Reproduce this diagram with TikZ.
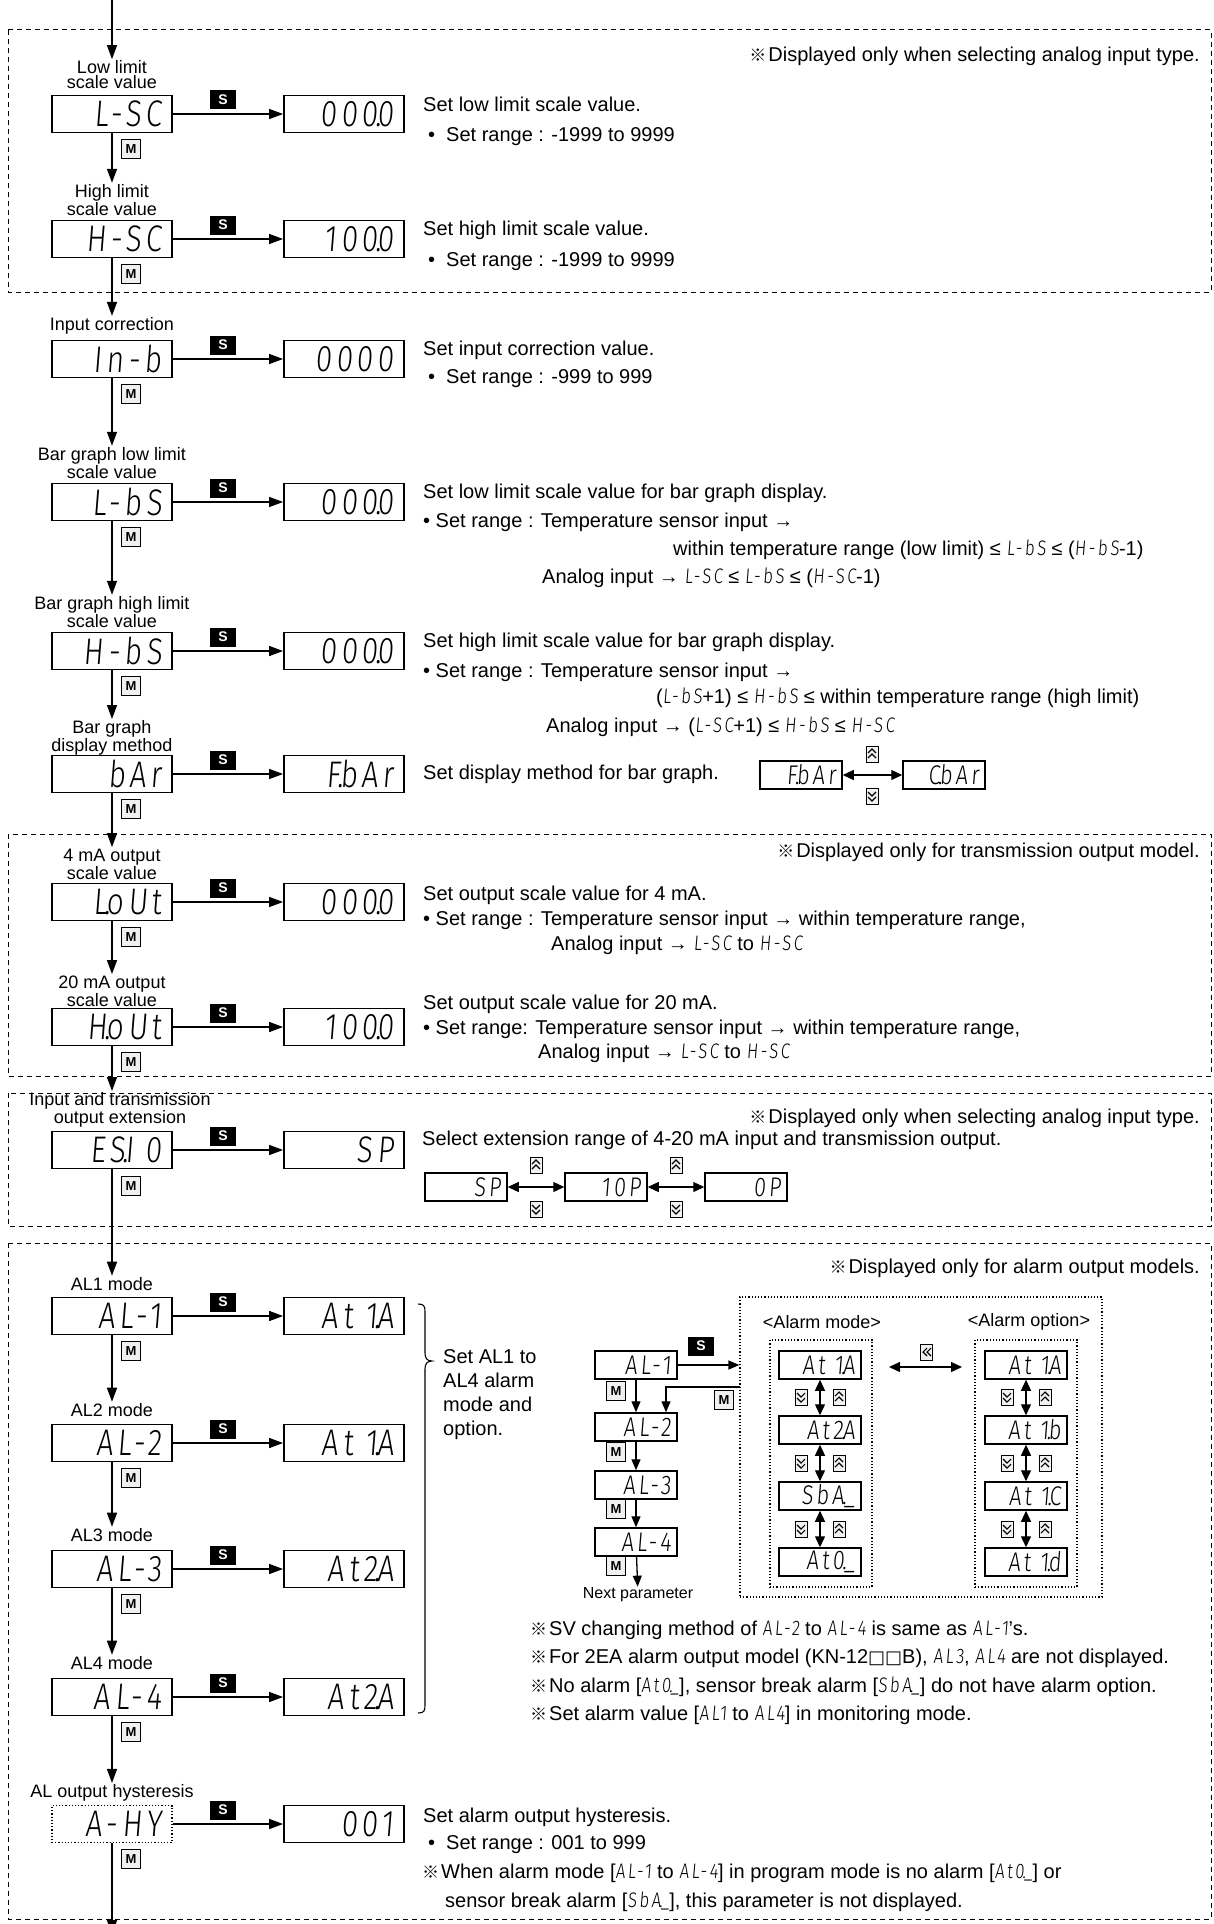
\documentclass[tikz,border=0pt]{standalone}
\usepackage{fontspec}
\setmainfont{Liberation Sans}
\newfontfamily\segfont{Fira Sans Light}[FakeSlant=0.08,FakeStretch=0.8,LetterSpace=12]
\newfontfamily\cjkf{Noto Sans CJK SC}
\newfontfamily\djf{DejaVu Sans}
\usetikzlibrary{arrows.meta,calc}
\newcommand\km{{\cjkf\fontsize{17}{20}\selectfont ※}\hspace{2pt}}
\newcommand\sv[1]{{\segfont\fontsize{21}{24}\selectfont #1}}
\newcommand\dotc{\kern-0.08em.\kern-0.1em}
\newcommand\sqb{{\djf\fontsize{18}{20}\selectfont □}}
\begin{document}
\begin{tikzpicture}[x=1pt,y=-1pt,
  lcd/.style={draw, line width=1.8pt, minimum width=120pt, minimum height=37pt, inner sep=0pt,
    text width=100pt, align=right, font=\segfont\fontsize{37}{37}\selectfont},
  slcd/.style={draw, line width=1.5pt, minimum width=82pt, minimum height=28pt, inner sep=0pt,
    text width=70pt, align=right, font=\segfont\fontsize{27}{27}\selectfont},
  skey/.style={fill=black, text=white, font=\bfseries\fontsize{14}{14}\selectfont,
    minimum width=26pt, minimum height=19pt, inner sep=0pt},
  mkey/.style={draw, line width=1.2pt, fill=black!6, font=\bfseries\fontsize{13}{13}\selectfont,
    minimum width=19pt, minimum height=19pt, inner sep=0pt},
  lab/.style={font=\fontsize{18}{15}\selectfont, align=center, inner sep=1.5pt},
  txt/.style={font=\fontsize{20}{24}\selectfont, anchor=west, inner sep=0pt},
  note/.style={font=\fontsize{20}{24}\selectfont, anchor=east, inner sep=0pt},
  arr/.style={line width=1.4pt, -{Triangle[length=14pt,width=10pt]}},
  arrs/.style={line width=1.3pt, -{Triangle[length=11pt,width=9pt]}},
  dbl/.style={line width=1.3pt, {Triangle[length=11pt,width=10pt]}-{Triangle[length=11pt,width=10pt]}},
  dbox/.style={line width=1pt, dash pattern=on 5pt off 4pt},
  dotbox/.style={line width=1.2pt, dash pattern=on 1.2pt off 2pt},
  upkey/.pic={\draw[line width=0.7pt, fill=black!5] (-6,-8) rectangle (6,8);
    \draw[line width=1.1pt] (-4,-1)--(0,-5)--(4,-1) (-4,4)--(0,0)--(4,4);},
  downkey/.pic={\draw[line width=0.7pt, fill=black!5] (-6,-8) rectangle (6,8);
    \draw[line width=1.1pt] (-4,1)--(0,5)--(4,1) (-4,-4)--(0,0)--(4,-4);},
  leftkey/.pic={\draw[line width=0.7pt, fill=black!5] (-6,-8) rectangle (6,8);
    \draw[line width=1.1pt] (1,-4)--(-3,0)--(1,4) (5,-4)--(1,0)--(5,4);}
]
\fill[white] (0,0) rectangle (1214,1924);
\useasboundingbox (0,0) rectangle (1214,1924);

% dashed frames
\draw[dbox] (8,30) rectangle (1211,292);
\draw[dbox] (8,834) rectangle (1211,1076);
\draw[dbox] (8,1093) rectangle (1211,1226);
\draw[dbox] (8,1243) rectangle (1211,1919);

% frame notes
\node[note] (n1) at (1200,56) {\km Displayed only when selecting analog input type.};
\node[note] (n3) at (1200,852) {\km Displayed only for transmission output model.};
\node[note] (n4) at (1200,1118) {\km Displayed only when selecting analog input type.};
\node[note] (n5) at (1200,1268) {\km Displayed only for alarm output models.};

% ---------- section 1
\coordinate (top) at (112,0);
\node[lab] (t1) at (112,75) {Low limit\\scale value};
\node[lcd] (p1) at (112,114) {L-SC};
\node[lcd] (v1) at (344,114) {000\dotc0};
\node[skey] (s1) at (223,100) {S};
\node[mkey] (m1) at (131,149) {M};
\node[txt] (d1a) at (423,104) {Set low limit scale value.};
\node[txt] (d1b) at (428,137) {•\hspace{11pt}Set range : -1999 to 9999};
% ---------- section 2
\node[lab] (t2) at (112,200) {High limit\\scale value};
\node[lcd] (p2) at (112,239) {H-SC};
\node[lcd] (v2) at (344,239) {100\dotc0};
\node[skey] (s2) at (223,225) {S};
\node[mkey] (m2) at (131,274) {M};
\node[txt] (d2a) at (423,230) {Set high limit scale value.};
\node[txt] (d2b) at (428,262) {•\hspace{11pt}Set range : -1999 to 9999};
% ---------- section 3
\node[lab] (t3) at (112,326) {Input correction};
\node[lcd] (p3) at (112,359) {In-b};
\node[lcd] (v3) at (344,359) {0000};
\node[skey] (s3) at (223,345) {S};
\node[mkey] (m3) at (131,394) {M};
\node[txt] (d3a) at (423,350) {Set input correction value.};
\node[txt] (d3b) at (428,379) {•\hspace{11pt}Set range : -999 to 999};
% ---------- section 4
\node[lab] (t4) at (112,463) {Bar graph low limit\\scale value};
\node[lcd] (p4) at (112,502) {L-bS};
\node[lcd] (v4) at (344,502) {000\dotc0};
\node[skey] (s4) at (223,488) {S};
\node[mkey] (m4) at (131,537) {M};
\node[txt] (d4a) at (423,493) {Set low limit scale value for bar graph display.};
\node[txt] (d4b) at (423,522) {• Set range : Temperature sensor input →};
\node[txt] (d4c) at (673,550) {within temperature range (low limit) ≤ \sv{L-bS} ≤ (\sv{H-bS}-1)};
\node[txt] (d4d) at (542,578) {Analog input → \sv{L-SC} ≤ \sv{L-bS} ≤ (\sv{H-SC}-1)};
% ---------- section 5
\node[lab] (t5) at (112,612) {Bar graph high limit\\scale value};
\node[lcd] (p5) at (112,651) {H-bS};
\node[lcd] (v5) at (344,651) {000\dotc0};
\node[skey] (s5) at (223,637) {S};
\node[mkey] (m5) at (131,686) {M};
\node[txt] (d5a) at (423,642) {Set high limit scale value for bar graph display.};
\node[txt] (d5b) at (423,672) {• Set range : Temperature sensor input →};
\node[txt] (d5c) at (656,698) {(\sv{L-bS}+1) ≤ \sv{H-bS} ≤ within temperature range (high limit)};
\node[txt] (d5d) at (546,727) {Analog input → (\sv{L-SC}+1) ≤ \sv{H-bS} ≤ \sv{H-SC}};
% ---------- section 6
\node[lab] (t6) at (112,738) {Bar graph\\display method};
\node[lcd] (p6) at (112,774) {bAr};
\node[lcd] (v6) at (344,774) {F\dotc bAr};
\node[skey] (s6) at (223,760) {S};
\node[mkey] (m6) at (131,809) {M};
\node[txt] (d6a) at (423,774) {Set display method for bar graph.};
\node[slcd] (f6a) at (801,775) {F\dotc bAr};
\node[slcd] (f6b) at (944,775) {C\dotc bAr};
\draw[dbl] (f6a) -- (f6b);
\pic at (872,754) {upkey};
\pic at (872,796) {downkey};
% ---------- section 7
\node[lab] (t7) at (112,864) {4 mA output\\scale value};
\node[lcd] (p7) at (112,902) {L\dotc oUt};
\node[lcd] (v7) at (344,902) {000\dotc0};
\node[skey] (s7) at (223,888) {S};
\node[mkey] (m7) at (131,937) {M};
\node[txt] (d7a) at (423,895) {Set output scale value for 4 mA.};
\node[txt] (d7b) at (423,920) {• Set range : Temperature sensor input → within temperature range,};
\node[txt] (d7c) at (551,945) {Analog input → \sv{L-SC} to \sv{H-SC}};
% ---------- section 8
\node[lab] (t8) at (112,991) {20 mA output\\scale value};
\node[lcd] (p8) at (112,1027) {H\dotc oUt};
\node[lcd] (v8) at (344,1027) {100\dotc0};
\node[skey] (s8) at (223,1013) {S};
\node[mkey] (m8) at (131,1062) {M};
\node[txt] (d8a) at (423,1004) {Set output scale value for 20 mA.};
\node[txt] (d8b) at (423,1029) {• Set range: Temperature sensor input → within temperature range,};
\node[txt] (d8c) at (538,1053) {Analog input → \sv{L-SC} to \sv{H-SC}};
% ---------- section 9
\node[lab] (t9) at (120,1110) {Input and transmission\\output extension};
\node[lcd] (p9) at (112,1150) {ES\dotc I 0};
\node[lcd] (v9) at (344,1150) {SP};
\node[skey] (s9) at (223,1136) {S};
\node[mkey] (m9) at (131,1186) {M};
\node[txt] (d9a) at (422,1140) {Select extension range of 4-20 mA input and transmission output.};
\node[slcd] (e1) at (466,1187) {SP};
\node[slcd] (e2) at (606,1187) {10P};
\node[slcd] (e3) at (746,1187) {0P};
\draw[dbl] (e1) -- (e2);
\draw[dbl] (e2) -- (e3);
\pic at (536,1165) {upkey};
\pic at (536,1209) {downkey};
\pic at (676,1165) {upkey};
\pic at (676,1209) {downkey};
% ---------- alarm sections
\node[lab] (t10) at (112,1284) {AL1 mode};
\node[lcd] (p10) at (112,1316) {AL-1};
\node[lcd] (v10) at (344,1316) {At 1\dotc A};
\node[skey] (s10) at (223,1302) {S};
\node[mkey] (m10) at (131,1351) {M};
\node[lab] (t11) at (112,1410) {AL2 mode};
\node[lcd] (p11) at (112,1443) {AL-2};
\node[lcd] (v11) at (344,1443) {At 1\dotc A};
\node[skey] (s11) at (223,1429) {S};
\node[mkey] (m11) at (131,1478) {M};
\node[lab] (t12) at (112,1535) {AL3 mode};
\node[lcd] (p12) at (112,1569) {AL-3};
\node[lcd] (v12) at (344,1569) {At2\dotc A};
\node[skey] (s12) at (223,1555) {S};
\node[mkey] (m12) at (131,1604) {M};
\node[lab] (t13) at (112,1663) {AL4 mode};
\node[lcd] (p13) at (112,1697) {AL-4};
\node[lcd] (v13) at (344,1697) {At2\dotc A};
\node[skey] (s13) at (223,1683) {S};
\node[mkey] (m13) at (131,1732) {M};
% brace
\draw[line width=1.1pt] (418,1304) .. controls (424,1304) and (425,1306) .. (425,1312) -- (425,1353)
  .. controls (425,1358) and (427,1361) .. (432,1361) .. controls (427,1361) and (425,1364) .. (425,1369)
  -- (425,1705) .. controls (425,1711) and (424,1713) .. (418,1713);
\node[font=\fontsize{20}{24}\selectfont, align=left, anchor=north west, inner sep=0pt] (bl) at (443,1349)
  {Set AL1 to\\AL4 alarm\\mode and\\option.};
% alarm notes
\node[txt] (an1) at (530,1630) {\km SV changing method of \sv{AL-2} to \sv{AL-4} is same as \sv{AL-1}’s.};
\node[txt] (an2) at (530,1658) {\km For 2EA alarm output model (KN-12\sqb\sqb B), \sv{AL3}, \sv{AL4} are not displayed.};
\node[txt] (an3) at (530,1687) {\km No alarm [\sv{At0\dotc\_}], sensor break alarm [\sv{SbA\dotc\_}] do not have alarm option.};
\node[txt] (an4) at (530,1715) {\km Set alarm value [\sv{AL1} to \sv{AL4}] in monitoring mode.};
% ---------- section 14
\node[lab] (t14) at (112,1793) {AL output hysteresis};
\node[lcd, dotbox] (p14) at (112,1824) {A-HY};
\node[lcd] (v14) at (344,1824) {001};
\node[skey] (s14) at (223,1810) {S};
\node[mkey] (m14) at (131,1859) {M};
\node[txt] (d14a) at (423,1817) {Set alarm output hysteresis.};
\node[txt] (d14b) at (428,1845) {•\hspace{11pt}Set range : 001 to 999};
\node[txt] (d14c) at (422,1873) {\km When alarm mode [\sv{AL-1} to \sv{AL-4}] in program mode is no alarm [\sv{At0\dotc\_}] or};
\node[txt] (d14d) at (445,1902) {sensor break alarm [\sv{SbA\dotc\_}], this parameter is not displayed.};
\coordinate (bot) at (112,1934);

% main connectors
\draw[arr] (top) -- (t1);
\foreach \i in {1,...,14} {\draw[arr] (p\i) -- (v\i);}
\draw[arr] (p1) -- (t2);
\draw[arr] (p2) -- (t3);
\draw[arr] (p3) -- (t4);
\draw[arr] (p4) -- (t5);
\draw[arr] (p5) -- (t6);
\draw[arr] (p6) -- (t7);
\draw[arr] (p7) -- (t8);
\draw[arr] (p8) -- (t9.north -| p8);
\draw[arr] (p9) -- (t10);
\draw[arr] (p10) -- (t11);
\draw[arr] (p11) -- (t12);
\draw[arr] (p12) -- (t13);
\draw[arr] (p13) -- (t14);
\draw[arr] (p14) -- (bot);

% ---------- alarm mini diagram
\node[slcd] (a1) at (636,1365) {AL-1};
\node[slcd] (a2) at (636,1427) {AL-2};
\node[slcd] (a3) at (636,1485) {AL-3};
\node[slcd] (a4) at (636,1542) {AL-4};
\node[skey] (sa) at (701,1346) {S};
\node[draw, dotbox, minimum width=362pt, minimum height=300pt, inner sep=0pt] (big) at (921,1447) {};
\node[font=\fontsize{18}{20}\selectfont, inner sep=0pt] (hm) at (822,1322) {<Alarm mode>};
\node[font=\fontsize{18}{20}\selectfont, inner sep=0pt] (ho) at (1029,1322) {<Alarm option>};
\node[draw, dotbox, minimum width=102pt, minimum height=247pt, inner sep=0pt] (il) at (821,1463.5) {};
\node[draw, dotbox, minimum width=102pt, minimum height=247pt, inner sep=0pt] (ir) at (1026,1463.5) {};
\draw[arrs] (a1) -- (a1 -| big.west);
\coordinate (mret) at (740,1387);
\draw[arrs] (mret) -| ($(a2.north)+(30,0)$);
\node[mkey] (ma) at (724,1400) {M};
\draw[arrs] (a1) -- (a2);
\draw[arrs] (a2) -- (a3);
\draw[arrs] (a3) -- (a4);
\node[font=\fontsize{16}{18}\selectfont, inner sep=1pt] (np) at (638,1595) {Next parameter};
\draw[arrs] (a4) -- (np);
\node[mkey] (mb1) at (616,1391) {M};
\node[mkey] (mb2) at (616,1452) {M};
\node[mkey] (mb3) at (616,1509) {M};
\node[mkey] (mb4) at (616,1566) {M};
\node[slcd] (mm1) at (820,1365) {At 1\dotc A};
\node[slcd] (mm2) at (820,1430) {At2\dotc A};
\node[slcd] (mm3) at (820,1496) {SbA\dotc\_};
\node[slcd] (mm4) at (820,1562) {At0\dotc\_};
\node[slcd] (oo1) at (1026,1365) {At 1\dotc A};
\node[slcd] (oo2) at (1026,1430) {At 1\dotc b};
\node[slcd] (oo3) at (1026,1496) {At 1\dotc C};
\node[slcd] (oo4) at (1026,1562) {At 1\dotc d};
\draw[dbl] (mm1) -- (mm2);
\draw[dbl] (mm2) -- (mm3);
\draw[dbl] (mm3) -- (mm4);
\draw[dbl] (oo1) -- (oo2);
\draw[dbl] (oo2) -- (oo3);
\draw[dbl] (oo3) -- (oo4);
\foreach \y in {1397,1463,1529} {
  \pic at (801,\y) {downkey};
  \pic at (839,\y) {upkey};
  \pic at (1007,\y) {downkey};
  \pic at (1045,\y) {upkey};
}
\coordinate (ha) at (889,1367);
\coordinate (hb) at (962,1367);
\draw[dbl] (ha) -- (hb);
\pic at (926,1352) {leftkey};
\end{tikzpicture}
\end{document}
